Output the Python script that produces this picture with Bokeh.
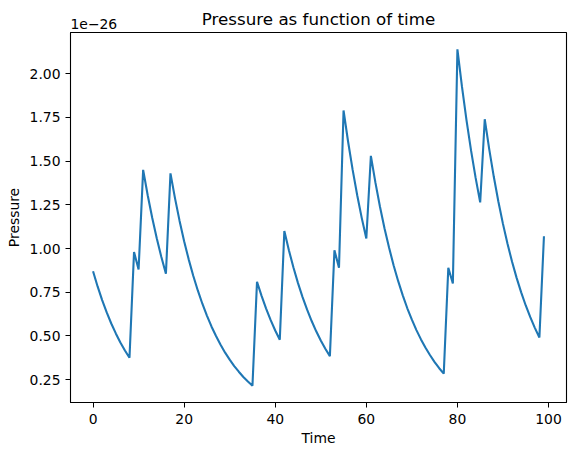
from bokeh.plotting import figure
from bokeh.models import Range1d, Title, FixedTicker, PrintfTickFormatter
from bokeh.embed import file_html
from bokeh.resources import INLINE

# Pressure mantissas (scale 1e-26), one per time step 0..99
time = list(range(100))
pressure = [
    0.870, 0.783, 0.705, 0.634, 0.571, 0.514, 0.462, 0.416, 0.375, 0.980,
    0.880, 1.450, 1.305, 1.175, 1.057, 0.951, 0.856, 1.430, 1.287, 1.158,
    1.042, 0.938, 0.844, 0.760, 0.684, 0.616, 0.554, 0.499, 0.449, 0.404,
    0.364, 0.327, 0.295, 0.265, 0.239, 0.215, 0.810, 0.729, 0.656, 0.590,
    0.531, 0.478, 1.100, 0.990, 0.891, 0.802, 0.722, 0.650, 0.585, 0.526,
    0.474, 0.426, 0.384, 0.990, 0.890, 1.790, 1.611, 1.450, 1.305, 1.174,
    1.057, 1.530, 1.377, 1.239, 1.115, 1.004, 0.903, 0.813, 0.732, 0.658,
    0.593, 0.533, 0.480, 0.432, 0.389, 0.350, 0.315, 0.284, 0.890, 0.800,
    2.140, 1.926, 1.733, 1.560, 1.404, 1.264, 1.740, 1.566, 1.409, 1.268,
    1.141, 1.027, 0.924, 0.832, 0.749, 0.674, 0.607, 0.546, 0.491, 1.070,
]
scale_label = "1e\u221226"
title_text = "Pressure as function of time"
x_ticks = [0, 20, 40, 60, 80, 100]
y_ticks = [0.25, 0.50, 0.75, 1.00, 1.25, 1.50, 1.75, 2.00]

FONT = "DejaVu Sans"

xmin, xmax = min(time), max(time)
ymin, ymax = min(pressure), max(pressure)
xm = (xmax - xmin) * 0.05
ym = (ymax - ymin) * 0.05

p = figure(width=576, height=455, output_backend="svg", toolbar_location=None,
           x_range=Range1d(xmin - xm, xmax + xm), y_range=Range1d(ymin - ym, ymax + ym),
           min_border_left=70, min_border_right=10, min_border_top=32, min_border_bottom=53)

# outer title row: main title, pulled down onto the same band as the exponent
p.title.text = title_text
p.title.align = "center"
p.title.text_font = FONT
p.title.text_font_size = "16.7px"
p.title.text_font_style = "normal"
p.title.text_color = "black"
p.title.standoff = -32

# inner title row: the offset exponent, left aligned
exp_title = Title(text=scale_label, align="left", text_font=FONT,
                  text_font_size="13.9px", text_font_style="normal",
                  text_color="black", standoff=8)
p.add_layout(exp_title, "above")

p.line(time, pressure, line_color="#1f77b4", line_width=2.1)

p.xgrid.visible = False
p.ygrid.visible = False
p.outline_line_color = "black"
p.outline_line_width = 1.1
p.background_fill_color = "white"
p.border_fill_color = "white"

for ax in (p.xaxis[0], p.yaxis[0]):
    ax.major_label_text_font = FONT
    ax.major_label_text_font_size = "13.9px"
    ax.major_label_text_color = "black"
    ax.axis_label_text_font = FONT
    ax.axis_label_text_font_size = "13.9px"
    ax.axis_label_text_font_style = "normal"
    ax.axis_label_text_color = "black"
    ax.minor_tick_line_color = None
    ax.major_tick_out = 5
    ax.major_tick_in = 0
    ax.axis_line_color = "black"
    ax.major_tick_line_color = "black"

p.xaxis.major_label_standoff = 6
p.yaxis.major_label_standoff = 5
p.xaxis.axis_label = "Time"
p.yaxis.axis_label = "Pressure"
p.xaxis.ticker = FixedTicker(ticks=x_ticks)
p.yaxis.ticker = FixedTicker(ticks=y_ticks)
p.yaxis.formatter = PrintfTickFormatter(format="%.2f")
p.xaxis.axis_label_standoff = 3
p.yaxis.axis_label_standoff = 5

open("out.html", "w").write(file_html(p, INLINE))
